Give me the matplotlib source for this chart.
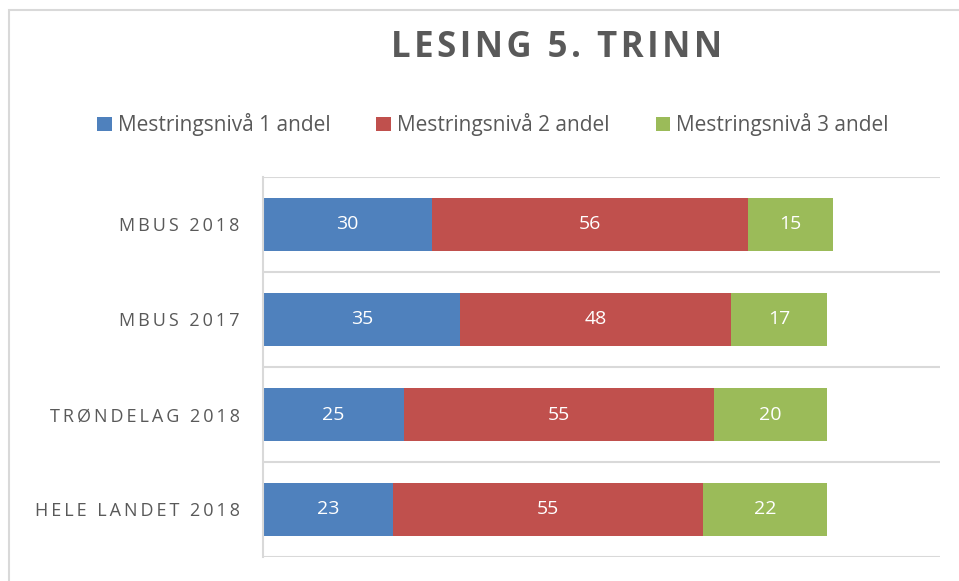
import numpy as np
import matplotlib.pyplot as plt
import matplotlib as mpl
from matplotlib.patches import Rectangle

mpl.rcParams['font.family'] = ['Open Sans', 'DejaVu Sans']

# data
categories = ['MBUS 2018', 'MBUS 2017', 'TRØNDELAG 2018', 'HELE LANDET 2018']
level1 = [30, 35, 25, 23]
level2 = [56, 48, 55, 55]
level3 = [15, 17, 20, 22]
series_names = ['Mestringsnivå 1 andel', 'Mestringsnivå 2 andel', 'Mestringsnivå 3 andel']
colors = ['#4F81BD', '#C0504D', '#9BBB59']
text_gray = '#595959'
grid_gray = '#D9D9D9'


def spaced(s, sep='\u2009'):
    return sep.join(s)


def main():
    fig = plt.figure(figsize=(9.59, 5.81), dpi=100)
    ax = fig.add_axes([263/959, 24/581, 677/959, 380/581])

    # outer chart border (partially cropped in reference)
    fig.patches.append(Rectangle((9/959, -0.05), 1.1, 1 - 10/581 + 0.05,
                                 transform=fig.transFigure, fill=False,
                                 edgecolor=grid_gray, linewidth=1.5))

    y = np.arange(len(categories))
    left = np.zeros(len(categories))
    for vals, name, col in zip([level1, level2, level3], series_names, colors):
        bars = ax.barh(y, vals, left=left, height=0.56, color=col, label=name)
        for b, v in zip(bars, vals):
            ax.text(b.get_x() + b.get_width()/2, b.get_y() + b.get_height()/2,
                    str(v), ha='center', va='center', color='white', fontsize=14)
        left += np.array(vals)

    ax.set_xlim(0, 120)
    ax.set_ylim(len(categories) - 0.5, -0.5)
    ax.set_yticks(y)
    ax.set_yticklabels([spaced(c, '\u2009') for c in categories], color=text_gray, fontsize=13)
    ax.set_yticks(np.arange(-0.5, len(categories)), minor=True)
    ax.tick_params(axis='y', which='both', length=0, pad=17)
    ax.set_xticks([])
    ax.grid(which='minor', axis='y', color=grid_gray, linewidth=1.5)
    for s in ['top', 'right', 'bottom']:
        ax.spines[s].set_visible(False)
    ax.spines['left'].set_color(grid_gray)
    ax.spines['left'].set_linewidth(1.5)
    ax.set_axisbelow(True)

    fig.text(557/959, 1 - 48/581, spaced('LESING 5. TRINN', '\u200a'), ha='center', va='center',
             fontsize=25, fontweight='bold', color=text_gray)

    fig.legend(loc='center', bbox_to_anchor=(493/959, 1 - 125/581), ncol=3,
               frameon=False, fontsize=15, labelcolor=text_gray, handlelength=0.7,
               handleheight=0.7, handletextpad=0.3, columnspacing=2.2)

    fig.savefig('out.png', dpi=100)


if __name__ == '__main__':
    main()
